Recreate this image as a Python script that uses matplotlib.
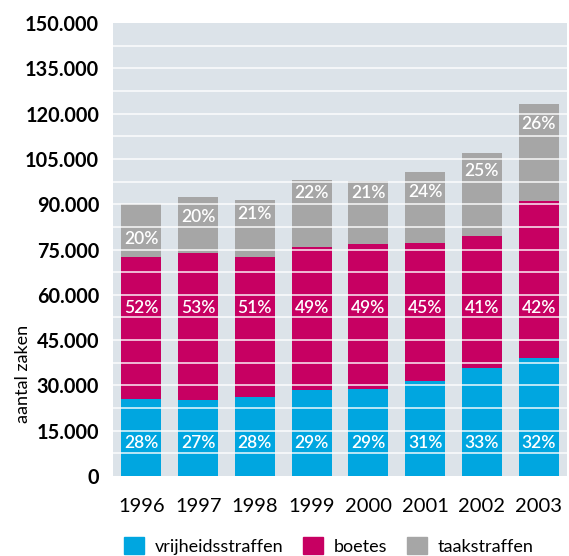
import numpy as np
import matplotlib.pyplot as plt
from matplotlib.patches import Patch
from matplotlib.ticker import MultipleLocator, FuncFormatter

# Data (aantal zaken per jaar)
years = ['1996', '1997', '1998', '1999', '2000', '2001', '2002', '2003']
vrijheid = np.array([25500, 25200, 26200, 28500, 28800, 31400, 35800, 39100])
boetes = np.array([47100, 48700, 46400, 47400, 48000, 45700, 43700, 52000])
taak = np.array([17400, 18600, 18800, 22100, 20900, 23500, 27500, 32100])

pct_vrij = ['28%', '27%', '28%', '29%', '29%', '31%', '33%', '32%']
pct_boetes = ['52%', '53%', '51%', '49%', '49%', '45%', '41%', '42%']
pct_taak = ['20%', '20%', '21%', '22%', '21%', '24%', '25%', '26%']

# y-position of the taakstraffen labels (they are not centred in the bar)
taak_label_y = [78400, 85700, 86800, 93600, 93800, 94100, 101100, 116400]

c_blue = '#00a6e0'
c_mag = '#c70062'
c_grey = '#a6a6a6'
c_bg = '#dce3e9'

plt.rcParams['font.family'] = ['Lato', 'DejaVu Sans']

fig = plt.figure(figsize=(5.69, 5.56), dpi=100)
ax = fig.add_axes([113/569, 1 - 476/556, 454/569, 453/556])
ax.set_facecolor(c_bg)

x = np.arange(len(years))
w = 0.705
ax.bar(x, vrijheid, w, color=c_blue, zorder=2)
ax.bar(x, boetes, w, bottom=vrijheid, color=c_mag, zorder=2)
ax.bar(x, taak, w, bottom=vrijheid + boetes, color=c_grey, zorder=2)

# white grid lines drawn over the bars
for yv in np.arange(7500, 150000, 7500):
    ax.axhline(yv, color='white', lw=1.2, alpha=0.85, zorder=3)

lab = dict(color='white', fontsize=12.5, fontweight='semibold', ha='center', va='center', zorder=4)
for i in x:
    ax.text(i, 11000, pct_vrij[i], **lab)
    ax.text(i, 55600, pct_boetes[i], **lab)
    ax.text(i, taak_label_y[i], pct_taak[i], **lab)

ax.set_xlim(-0.5, len(years) - 0.5)
ax.set_ylim(0, 150000)
ax.yaxis.set_major_locator(MultipleLocator(15000))
ax.yaxis.set_major_formatter(FuncFormatter(lambda v, p: f'{int(v):,}'.replace(',', '.')))
ax.set_xticks(x)
ax.set_xticklabels(years, fontsize=14.5)
for t in ax.get_yticklabels():
    t.set_fontsize(14.3)
    t.set_fontweight('bold')
ax.tick_params(length=0)
ax.tick_params(axis='y', pad=10)
ax.tick_params(axis='x', pad=16)
for s in ax.spines.values():
    s.set_visible(False)

ax.set_ylabel('aantal zaken', fontsize=13)
ax.yaxis.set_label_coords(-0.18, 0.225)

handles = [Patch(color=c_blue, label='vrijheidsstraffen'),
           Patch(color=c_mag, label='boetes'),
           Patch(color=c_grey, label='taakstraffen')]
fig.legend(handles=handles, loc='center left', bbox_to_anchor=(115/569, 1 - 546/556),
           ncol=3, frameon=False, fontsize=13, handlelength=1.1, handleheight=1.1,
           handletextpad=0.6, columnspacing=1.1, borderpad=0)

fig.savefig('out.png', dpi=100)
